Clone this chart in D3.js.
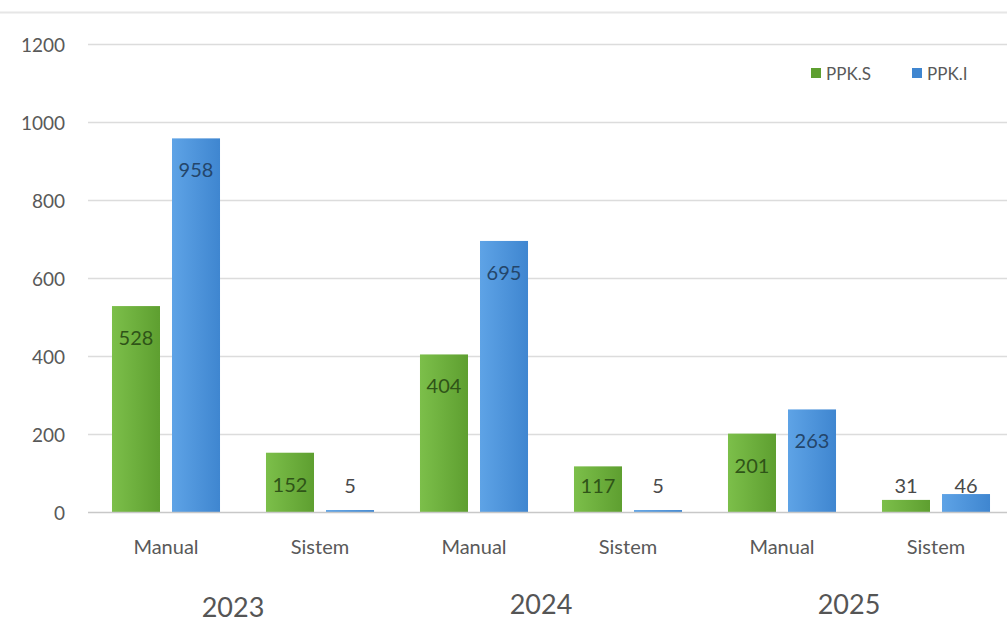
<!DOCTYPE html>
<html>
<head>
<meta charset="utf-8">
<script src="https://cdn.jsdelivr.net/npm/d3@7"></script>
<style>
  body { margin: 0; background: #fff; }
  svg { display: block; font-family: Lato, "Open Sans", sans-serif; }
</style>
</head>
<body>
<svg width="1007" height="623"></svg>
<script>
const svg = d3.select("svg");
const width = +svg.attr("width");
const height = +svg.attr("height");

// data
const years = ["2023", "2024", "2025"];
const types = ["Manual", "Sistem"];
const series = ["PPK.S", "PPK.I"];
const ppkS = [528, 152, 404, 117, 201, 31];
const ppkI = [958, 5, 695, 5, 263, 46];
const yTicks = [0, 200, 400, 600, 800, 1000, 1200];

const colors = { "PPK.S": ["#7cbf4a", "#5e9f30"], "PPK.I": ["#5ea3e6", "#3f86d0"] };
const labelInside = { "PPK.S": "#2f5418", "PPK.I": "#24466b" };

const cats = [];
years.forEach(y => types.forEach(t => cats.push({ key: y + "-" + t, year: y, type: t })));
const rows = cats.map((c, i) => ({ ...c, values: { "PPK.S": ppkS[i], "PPK.I": ppkI[i] } }));

const x = d3.scaleBand().domain(cats.map(c => c.key)).range([89, 1013]);
const xs = d3.scaleBand().domain(series).range([0, x.bandwidth()]).paddingInner(0.2).paddingOuter(0.383);
const y = d3.scaleLinear().domain([0, 1200]).range([512, 44]);

// gradients
const defs = svg.append("defs");
series.forEach((s, i) => {
  const g = defs.append("linearGradient").attr("id", "grad" + i)
    .attr("x1", "0%").attr("x2", "100%").attr("y1", "0%").attr("y2", "0%");
  g.append("stop").attr("offset", "0%").attr("stop-color", colors[s][0]);
  g.append("stop").attr("offset", "100%").attr("stop-color", colors[s][1]);
});

// top separator line
svg.append("line")
  .attr("x1", 0).attr("x2", width).attr("y1", 12.5).attr("y2", 12.5)
  .attr("stroke", "#e6e6e6").attr("stroke-width", 2);

// gridlines
svg.append("g").selectAll("line")
  .data(yTicks.filter(d => d > 0))
  .join("line")
  .attr("x1", 88).attr("x2", width)
  .attr("y1", d => y(d) + 0.5).attr("y2", d => y(d) + 0.5)
  .attr("stroke", "#dcdcdc").attr("stroke-width", 1.5);

// y tick labels
svg.append("g").selectAll("text")
  .data(yTicks)
  .join("text")
  .attr("x", 65).attr("y", d => y(d))
  .attr("text-anchor", "end").attr("dominant-baseline", "central")
  .attr("font-size", 19).attr("fill", "#595959")
  .text(d => d);

// bars
const groups = svg.append("g").selectAll("g")
  .data(rows)
  .join("g")
  .attr("transform", d => `translate(${x(d.key)},0)`);

groups.selectAll("rect")
  .data(d => series.map((s, i) => ({ s, i, v: d.values[s] })))
  .join("rect")
  .attr("x", d => xs(d.s))
  .attr("width", xs.bandwidth())
  .attr("y", d => y(d.v))
  .attr("height", d => y(0) - y(d.v))
  .attr("fill", d => `url(#grad${d.i})`);

// value labels
groups.selectAll("text")
  .data(d => series.map(s => ({ s, v: d.values[s] })))
  .join("text")
  .attr("x", d => xs(d.s) + xs.bandwidth() / 2)
  .attr("y", d => Math.min(y(d.v) + 31, 485))
  .attr("text-anchor", "middle").attr("dominant-baseline", "central")
  .attr("font-size", 20)
  .attr("fill", d => (y(0) - y(d.v) > 30 ? labelInside[d.s] : "#4a4a4a"))
  .text(d => d.v);

// baseline
svg.append("line")
  .attr("x1", 88).attr("x2", width).attr("y1", y(0) + 0.5).attr("y2", y(0) + 0.5)
  .attr("stroke", "#c8c8c8").attr("stroke-width", 1.5);

// category labels
svg.append("g").selectAll("text")
  .data(rows)
  .join("text")
  .attr("x", d => x(d.key) + x.bandwidth() / 2)
  .attr("y", 546)
  .attr("text-anchor", "middle").attr("dominant-baseline", "central")
  .attr("font-size", 20).attr("fill", "#595959")
  .text(d => d.type);

// year labels
svg.append("g").selectAll("text")
  .data(years)
  .join("text")
  .attr("x", d => x(d + "-Manual") + x.bandwidth() - 10)
  .attr("y", (d, i) => i === 0 ? 606 : 603)
  .attr("text-anchor", "middle").attr("dominant-baseline", "central")
  .attr("font-size", 27).attr("fill", "#555")
  .text(d => d);

// legend
const legend = svg.append("g").attr("transform", "translate(811,73)");
const legX = [0, 101];
series.forEach((s, i) => {
  const g = legend.append("g").attr("transform", `translate(${legX[i]},0)`);
  g.append("rect").attr("x", 0).attr("y", -5).attr("width", 10).attr("height", 10)
    .attr("fill", colors[s][1]);
  g.append("text").attr("x", 15).attr("y", 0)
    .attr("dominant-baseline", "central")
    .attr("font-size", 17).attr("fill", "#595959")
    .text(s);
});
</script>
</body>
</html>
